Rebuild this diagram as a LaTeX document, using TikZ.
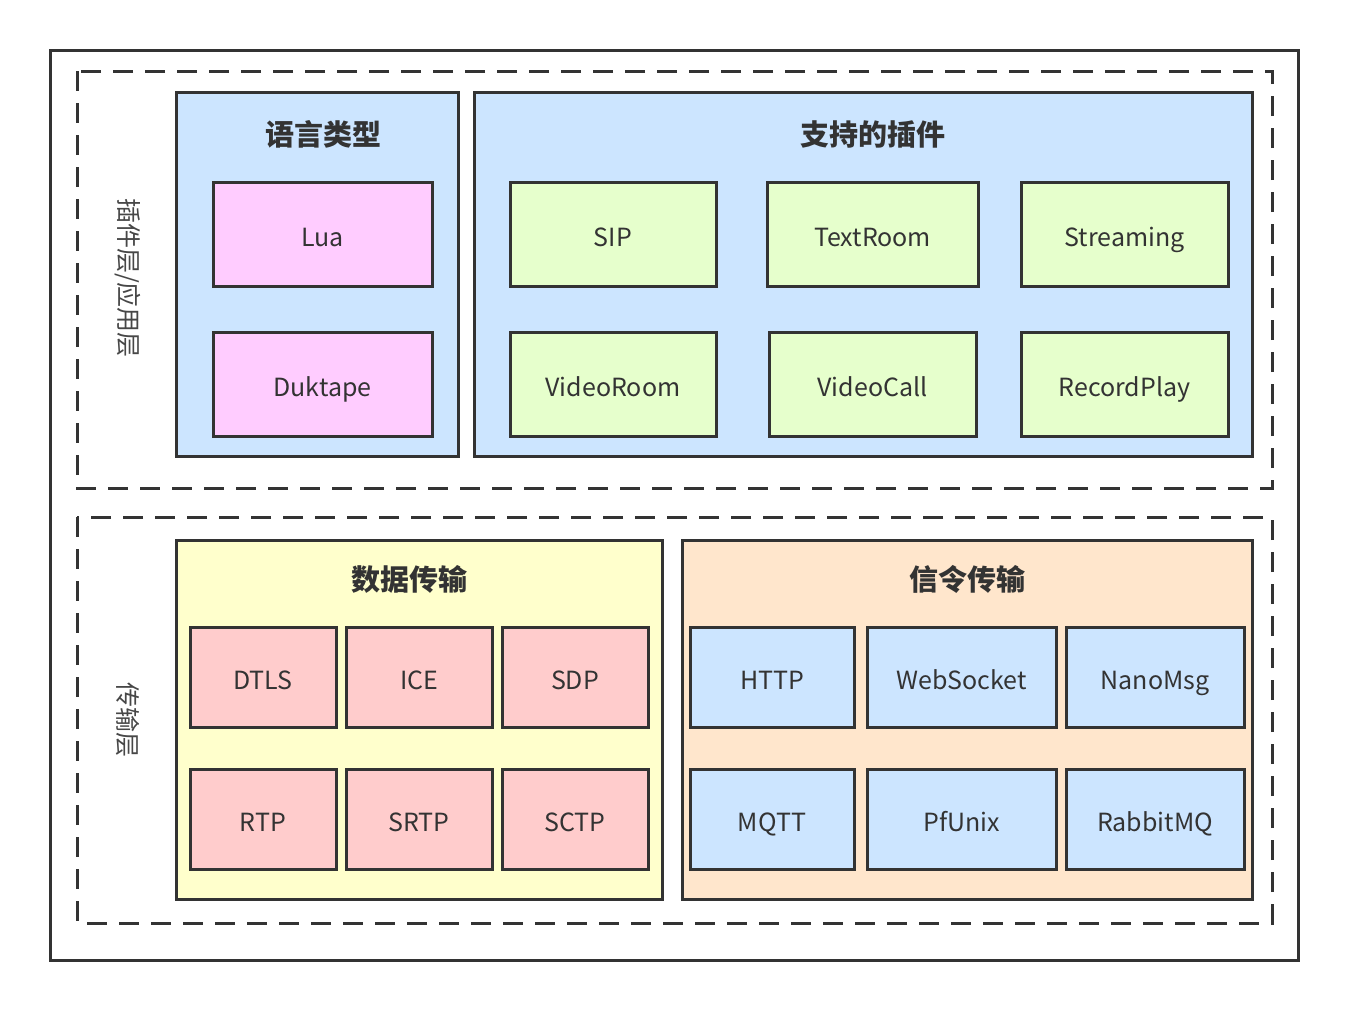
\documentclass[tikz,border=0pt]{standalone}
\usepackage{fontspec}
\setmainfont{Noto Sans CJK SC}
\definecolor{edge}{HTML}{333333}
\definecolor{bluef}{HTML}{CCE5FF}
\definecolor{pinkf}{HTML}{FFCCFF}
\definecolor{greenf}{HTML}{E6FFCC}
\definecolor{yellowf}{HTML}{FFFFCC}
\definecolor{redf}{HTML}{FFCCCC}
\definecolor{orangef}{HTML}{FFE6CC}
\begin{document}
\begin{tikzpicture}[x=1pt,y=-1pt,
  frame/.style={draw=edge,line width=3pt},
  dashbox/.style={draw=edge,line width=3pt,dash pattern=on 20pt off 12pt},
  group/.style={draw=edge,line width=3pt},
  item/.style={draw=edge,line width=3pt,inner sep=0pt,text height=25pt,text depth=0pt,font=\fontsize{25}{30}\selectfont,text=edge},
  gtitle/.style={font=\bfseries\fontsize{29}{34}\selectfont,text=edge},
  vlabel/.style={rotate=-90,font=\fontsize{25}{30}\selectfont,text=edge!90}]
\useasboundingbox (0,0) rectangle (1348,1010);
\draw[frame] (50,50) rectangle (1298,960);
\draw[dashbox] (77,71) rectangle (1272,488);
\draw[dashbox] (77,517) rectangle (1272,923);
\node[vlabel] (l1) at (128,278) {插件层/应用层};
\node[vlabel] (l2) at (128,720) {传输层};
% language group
\draw[group,fill=bluef] (176,92) rectangle (458,456);
\node[gtitle] (t1) at (323,134) {语言类型};
\node[item,fill=pinkf,minimum width=219pt,minimum height=104pt] (lua) at (322.5,234) {Lua};
\node[item,fill=pinkf,minimum width=219pt,minimum height=104pt] (duk) at (322.5,384) {Duktape};
% plugins group
\draw[group,fill=bluef] (474,92) rectangle (1252,456);
\node[gtitle] (t2) at (873,134) {支持的插件};
\node[item,fill=greenf,minimum width=206pt,minimum height=104pt] (sip) at (613,234) {SIP};
\node[item,fill=greenf,minimum width=211pt,minimum height=104pt] (tr) at (872.5,234) {TextRoom};
\node[item,fill=greenf,minimum width=207pt,minimum height=104pt] (st) at (1124.5,234) {Streaming};
\node[item,fill=greenf,minimum width=206pt,minimum height=104pt] (vr) at (613,384) {VideoRoom};
\node[item,fill=greenf,minimum width=207pt,minimum height=104pt] (vc) at (872.5,384) {VideoCall};
\node[item,fill=greenf,minimum width=207pt,minimum height=104pt] (rp) at (1124.5,384) {RecordPlay};
% data transport
\draw[group,fill=yellowf] (176,540) rectangle (662,899);
\node[gtitle] (t3) at (409,579) {数据传输};
\node[item,fill=redf,minimum width=146pt,minimum height=100pt] (dtls) at (263,677) {DTLS};
\node[item,fill=redf,minimum width=146pt,minimum height=100pt] (ice) at (419,677) {ICE};
\node[item,fill=redf,minimum width=146pt,minimum height=100pt] (sdp) at (575,677) {SDP};
\node[item,fill=redf,minimum width=146pt,minimum height=100pt] (rtp) at (263,819) {RTP};
\node[item,fill=redf,minimum width=146pt,minimum height=100pt] (srtp) at (419,819) {SRTP};
\node[item,fill=redf,minimum width=146pt,minimum height=100pt] (sctp) at (575,819) {SCTP};
% signalling transport
\draw[group,fill=orangef] (682,540) rectangle (1252,899);
\node[gtitle] (t4) at (967,579) {信令传输};
\node[item,fill=bluef,minimum width=164pt,minimum height=100pt] (http) at (772,677) {HTTP};
\node[item,fill=bluef,minimum width=189pt,minimum height=100pt] (ws) at (961.5,677) {WebSocket};
\node[item,fill=bluef,minimum width=178pt,minimum height=100pt] (nm) at (1155,677) {NanoMsg};
\node[item,fill=bluef,minimum width=164pt,minimum height=100pt] (mqtt) at (772,819) {MQTT};
\node[item,fill=bluef,minimum width=189pt,minimum height=100pt] (pf) at (961.5,819) {PfUnix};
\node[item,fill=bluef,minimum width=178pt,minimum height=100pt] (rmq) at (1155,819) {RabbitMQ};
\end{tikzpicture}
\end{document}
